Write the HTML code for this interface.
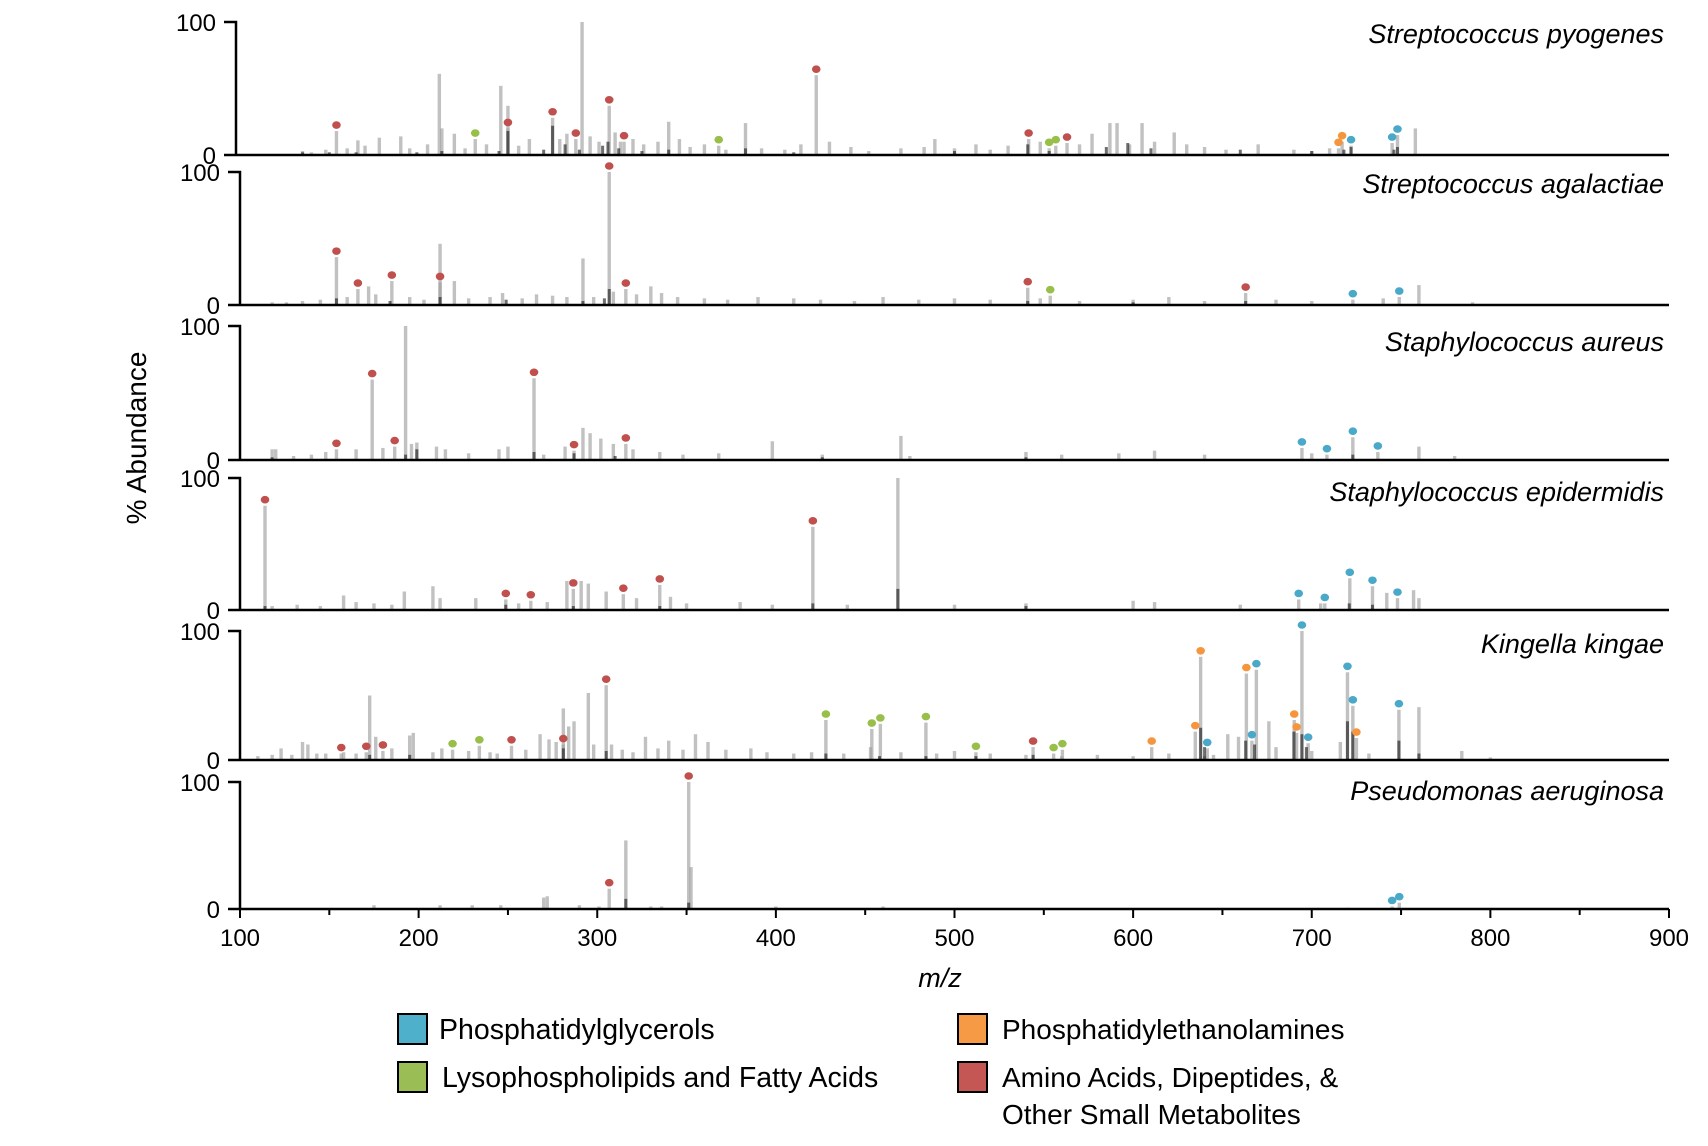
<!DOCTYPE html>
<html><head><meta charset="utf-8"><style>
html,body{margin:0;padding:0;background:#fff;}
svg{display:block;font-family:"Liberation Sans",Arial,sans-serif;}
</style></head><body>
<svg id="chart" width="1708" height="1146" viewBox="0 0 1708 1146" xmlns="http://www.w3.org/2000/svg">
<g id="panels"></g>
<g id="xaxis"></g>
<text x="146" y="438" transform="rotate(-90 146 438)" text-anchor="middle" font-size="28" fill="#000">% Abundance</text>
<text x="940" y="987" text-anchor="middle" font-size="27" font-style="italic" fill="#000">m/z</text>
<g>
 <g>
  <rect x="398" y="1014" width="29" height="30" fill="#4fb0cc" stroke="#000" stroke-width="2"/>
  <text x="439" y="1039" font-size="28.5">Phosphatidylglycerols</text>
 </g>
 <g>
  <rect x="958" y="1014" width="29" height="30" fill="#f79a46" stroke="#000" stroke-width="2"/>
  <text x="1002" y="1039" font-size="28">Phosphatidylethanolamines</text>
 </g>
 <g>
  <rect x="398" y="1062" width="29" height="30" fill="#9bbd55" stroke="#000" stroke-width="2"/>
  <text x="442" y="1087" font-size="28.5">Lysophospholipids and Fatty Acids</text>
 </g>
 <g>
  <rect x="958" y="1062" width="29" height="30" fill="#c45754" stroke="#000" stroke-width="2"/>
  <text x="1002" y="1087" font-size="28">Amino Acids, Dipeptides, &amp;</text>
  <text x="1002" y="1124" font-size="28">Other Small Metabolites</text>
 </g>
</g>
</svg>
<script>
// ---- data ----
const species = ["Streptococcus pyogenes","Streptococcus agalactiae","Staphylococcus aureus","Staphylococcus epidermidis","Kingella kingae","Pseudomonas aeruginosa"];
const xTicks = [100,200,300,400,500,600,700,800,900];
const yTickLabels = ["0","100"];
const classColors = {pg:"#4aa8c8", pe:"#f5963f", ly:"#97bf4a", aa:"#c0504d"};

// annotated peaks: [m/z, % abundance, class]
const marked0 = [[154,18,"aa"],[250,20,"aa"],[231.7,12,"ly"],[275,28,"aa"],[288,12,"aa"],[306.7,37,"aa"],[315,10,"aa"],[368,7,"ly"],[422.6,60,"aa"],[541.5,12,"aa"],[553,5,"ly"],[556.7,7,"ly"],[563,9,"aa"],[715,5,"pe"],[717,10,"pe"],[722,7,"pg"],[745,9,"pg"],[748,15,"pg"]];
const marked1 = [[154,36,"aa"],[166,12,"aa"],[185,18,"aa"],[212,17,"aa"],[306.7,100,"aa"],[316,12,"aa"],[541,13,"aa"],[553.6,7,"ly"],[663,9,"aa"],[723,4,"pg"],[749,6,"pg"]];
const marked2 = [[154,8,"aa"],[174,60,"aa"],[186.6,10,"aa"],[264.6,61,"aa"],[287,7,"aa"],[316,12,"aa"],[694.5,9,"pg"],[708.5,4,"pg"],[723,17,"pg"],[737,6,"pg"]];
const marked3 = [[114,79,"aa"],[248.8,8,"aa"],[262.8,7,"aa"],[286.6,16,"aa"],[314.6,12,"aa"],[335,19,"aa"],[420.7,63,"aa"],[692.7,8,"pg"],[707.3,5,"pg"],[721.3,24,"pg"],[734,18,"pg"],[748,9,"pg"]];
const marked4 = [[156.7,5,"aa"],[170.7,6,"aa"],[180,7,"aa"],[219,8,"ly"],[234,11,"ly"],[252,11,"aa"],[281,12,"aa"],[305,58,"aa"],[428,31,"ly"],[453.7,24,"ly"],[458.5,28,"ly"],[484,29,"ly"],[512,6,"ly"],[544,10,"aa"],[555.5,5,"ly"],[560.4,8,"ly"],[610.4,10,"pe"],[634.8,22,"pe"],[637.8,80,"pe"],[641.5,9,"pg"],[663.4,67,"pe"],[666.5,15,"pg"],[669,70,"pg"],[690.2,31,"pe"],[691.5,21,"pe"],[694.5,100,"pg"],[698,13,"pg"],[720,68,"pg"],[723,42,"pg"],[725,17,"pe"],[748.8,39,"pg"]];
const marked5 = [[306.7,16,"aa"],[351.2,100,"aa"],[745,2,"pg"],[749,5,"pg"]];

// unannotated peaks: [m/z, % abundance]
const peaks0 = [[135,3],[140,2],[148,4],[160,5],[166,11],[170,7],[178,13],[190,14],[195,5],[205,8],[211.6,61],[213,20],[220,16],[226,5],[238,8],[246,52],[250,37],[256,7],[262,12],[279,12],[283,16],[291.5,100],[296,14],[301,10],[310,17],[313,10],[320,12],[326,8],[334,10],[340,25],[346,12],[352,6],[360,8],[372,4],[383,24],[392,5],[405,4],[414,8],[430,10],[442,6],[452,3],[470,5],[483,6],[489,12],[500,5],[512,8],[520,4],[530,7],[548,10],[570,8],[577,16],[587,24],[591,24],[598,8],[605,24],[612,10],[623,17],[630,8],[640,6],[652,4],[670,8],[690,4],[700,3],[710,5],[758,20]];
const peaks1 = [[118,2],[126,2],[135,3],[145,4],[160,6],[172,14],[176,8],[195,6],[203,4],[212,46],[220,18],[228,5],[240,6],[247,9],[258,5],[266,8],[275,7],[283,6],[292,35],[298,6],[309,10],[322,8],[330,14],[336,9],[345,6],[360,5],[373,4],[390,6],[410,5],[425,4],[444,3],[460,6],[480,4],[500,5],[520,4],[548,5],[570,3],[600,4],[620,6],[640,3],[680,4],[700,3],[740,5],[760,15],[790,2]];
const peaks2 = [[118,8],[120,8],[130,3],[140,4],[148,6],[165,8],[180,9],[192.7,100],[196,12],[199,13],[210,10],[215,8],[228,5],[245,8],[250,10],[270,4],[282,10],[292,24],[296,20],[302,16],[309,12],[320,8],[335,6],[348,4],[368,5],[398,14],[426,4],[470,18],[475,3],[540,6],[560,4],[592,5],[612,7],[640,4],[700,5],[760,10],[780,3]];
const peaks3 = [[118,3],[132,4],[145,3],[158,11],[165,6],[175,5],[185,4],[192,14],[208,18],[212,9],[232,9],[256,5],[272,6],[283,22],[291,22],[295,20],[305,14],[322,9],[341,10],[350,5],[380,6],[398,4],[440,4],[468.3,100],[500,4],[540,5],[600,7],[612,6],[660,4],[705,5],[742,13],[757,15],[760,9]];
const peaks4 = [[110,3],[118,4],[123,9],[129,4],[135,14],[138,12],[143,5],[148,5],[158,6],[165,5],[172.6,50],[176,18],[185,9],[195,19],[197,21],[208,6],[213,9],[228,7],[240,6],[244,5],[260,8],[268,20],[273,16],[277,14],[281,40],[284,26],[287,30],[295,52],[298,12],[308,12],[314,8],[320,6],[327,18],[334,9],[340,15],[348,8],[355,20],[362,14],[372,8],[386,9],[395,6],[410,5],[420,6],[438,5],[453,10],[470,6],[490,5],[500,7],[520,5],[540,4],[560,3],[580,4],[600,3],[620,5],[640,3],[645,4],[653,20],[659,18],[676,30],[680,10],[700,7],[716,14],[732,5],[760,41],[784,7],[800,2]];
const peaks5 = [[175,3],[212,3],[230,3],[246,3],[270,9],[272,10],[290,3],[301,2],[316,54],[330,2],[336,2],[352.5,33],[400,2],[460,2],[720,1]];

// dark (overlapping) bars: [m/z, % abundance]
const dark0 = [[135,2],[150,2],[165,2],[199,2],[213,3],[245,3],[250,18],[270,4],[275,22],[282,8],[290,4],[303,7],[306,10],[312,5],[325,3],[340,4],[383,5],[410,2],[500,3],[541,8],[553,3],[585,6],[597,9],[610,5],[660,4],[700,3],[718,4],[722,6],[746,4],[748,6]];
const dark1 = [[154,5],[184,3],[212,6],[249,4],[292,3],[304,5],[306.7,12],[541,3],[600,2],[663,3]];
const dark2 = [[118,2],[192.7,4],[199,8],[264.6,6],[287,5],[310,3],[426,2],[540,2],[723,4]];
const dark3 = [[114,3],[248.8,4],[286.6,3],[335,3],[420.7,5],[468.3,16],[540,3],[721,5],[734,4]];
const dark4 = [[172.6,4],[195,4],[281,9],[305,7],[428,5],[458,3],[484,3],[512,3],[544,4],[637.8,25],[640,10],[663,15],[668,12],[690,22],[694.5,20],[697,10],[720,30],[723,22],[748.8,15],[760,5]];
const dark5 = [[316,8],[351.2,5]];

const markedAll = [marked0,marked1,marked2,marked3,marked4,marked5];
const peaksAll = [peaks0,peaks1,peaks2,peaks3,peaks4,peaks5];
const darkAll = [dark0,dark1,dark2,dark3,dark4,dark5];

// ---- layout ----
const panelTops = [22,172,326,478,631,782];
const panelBases = [155,305,460,610,760,909];
const axisX = [236,240,240,240,240,240];
const labelY = [43,193,351,501,653,800];
const X0 = 240, X1 = 1669, MZ0 = 100, MZ1 = 900;
function xs(mz){ return X0 + (mz-MZ0)*(X1-X0)/(MZ1-MZ0); }
function ys(i,v){ return panelBases[i] - v/100*(panelBases[i]-panelTops[i]); }

const NS = "http://www.w3.org/2000/svg";
function mk(tag, attrs){ const e=document.createElementNS(NS,tag); for(const k in attrs) e.setAttribute(k,attrs[k]); return e; }
const panels = document.getElementById("panels");

for(let i=0;i<6;i++){
  const g = mk("g",{});
  
  
  panels.appendChild(g);
  const bw = 3.4;
  const gray = peaksAll[i].concat(markedAll[i].map(p=>[p[0],p[1]]));
  gray.forEach(p=>{
    const r = mk("rect",{x:xs(p[0])-bw/2, y:ys(i,p[1]), width:bw, height:panelBases[i]-ys(i,p[1]), fill:"#a0a0a0", "fill-opacity":"0.65"});
    
    
    g.appendChild(r);
  });
  darkAll[i].forEach(p=>{
    const r = mk("rect",{x:xs(p[0])-1.5, y:ys(i,p[1]), width:3, height:panelBases[i]-ys(i,p[1]), fill:"#222", "fill-opacity":"0.65"});
    
    
    g.appendChild(r);
  });
  markedAll[i].forEach(p=>{
    const c = mk("ellipse",{cx:xs(p[0]), cy:ys(i,p[1])-6, rx:4.3, ry:3.8, fill:classColors[p[2]]});
    
    
    g.appendChild(c);
  });
  const ax = axisX[i];
  const yl = mk("path",{d:`M${ax-12},${panelTops[i]} H${ax} V${panelBases[i]}`, fill:"none", stroke:"#000", "stroke-width":"2.5"});
  
  
  g.appendChild(yl);
  const bl = mk("line",{x1:ax-12, x2:X1, y1:panelBases[i], y2:panelBases[i], stroke:"#000", "stroke-width":"2.5"});
  
  
  g.appendChild(bl);
  const t100 = mk("text",{x:ax-20, y:panelTops[i]+9, "text-anchor":"end", "font-size":"24"});
  t100.textContent = yTickLabels[1];
  
  
  g.appendChild(t100);
  const t0 = mk("text",{x:ax-20, y:panelBases[i]+9, "text-anchor":"end", "font-size":"24"});
  t0.textContent = yTickLabels[0];
  
  
  g.appendChild(t0);
  const sp = mk("text",{x:1664, y:labelY[i], "text-anchor":"end", "font-size":"27", "font-style":"italic"});
  sp.textContent = species[i];
  
  
  g.appendChild(sp);
}

const xg = document.getElementById("xaxis");
const base = panelBases[5];
for(let v=100; v<=900; v+=50){
  const major = v%100===0;
  const t = mk("line",{x1:xs(v), x2:xs(v), y1:base, y2:base+(major?9:6), stroke:"#000", "stroke-width":"2"});
  
  
  xg.appendChild(t);
}
xTicks.forEach(v=>{
  const t = mk("text",{x:xs(v), y:base+37, "text-anchor":"middle", "font-size":"24"});
  t.textContent = v;
  
  
  xg.appendChild(t);
});
</script>
</body></html>
